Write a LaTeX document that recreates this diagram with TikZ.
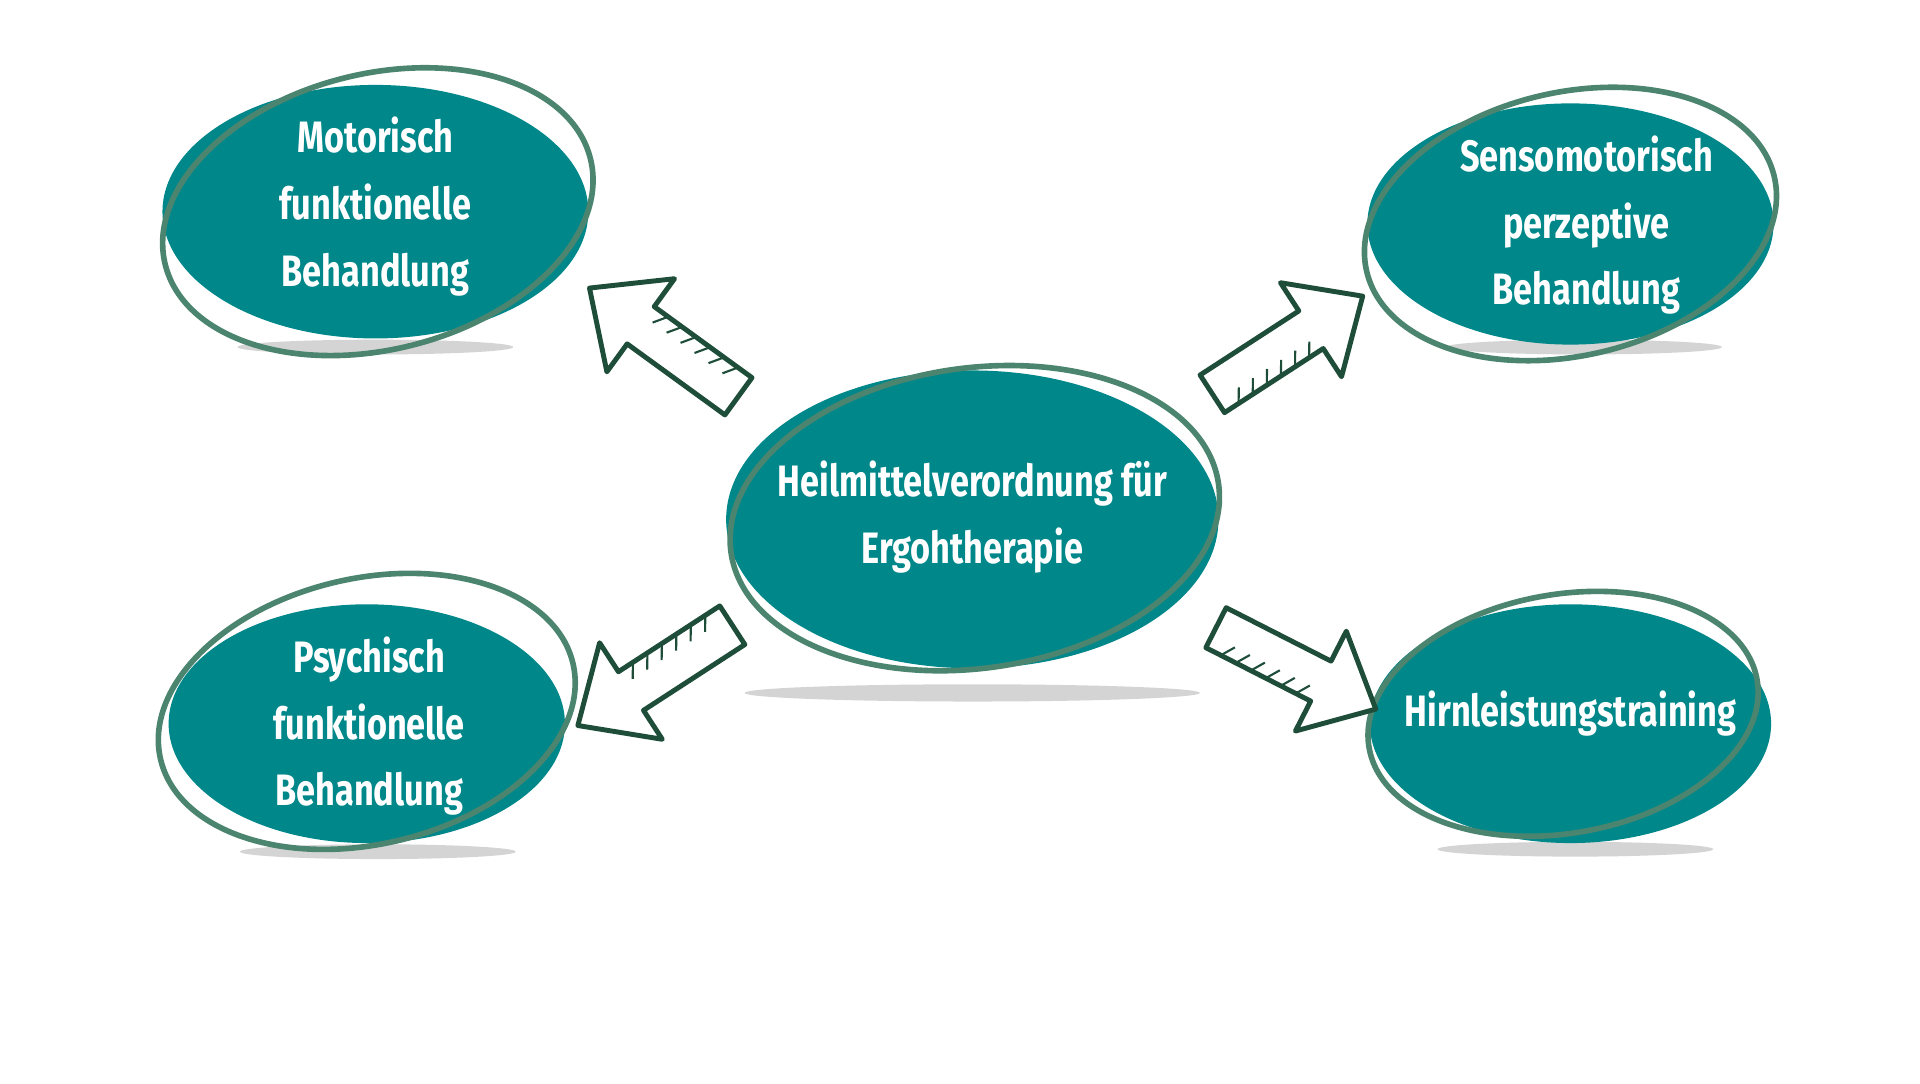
\documentclass[tikz,border=0pt]{standalone}
\usepackage{fontspec}
\setmainfont[FakeStretch=0.78]{Fira Sans}
\definecolor{tealfill}{HTML}{00878A}
\definecolor{ringcolor}{HTML}{4B8570}
\definecolor{arrowcolor}{HTML}{1E4D3A}
\tikzset{
  blob/.style={fill=tealfill},
  label/.style={text=white,align=center,font=\fontsize{12.5}{19}\selectfont\bfseries},
  ring/.style={draw=ringcolor,line width=1.6pt},
  shade/.style={fill=black!17},
  arrowline/.style={draw=arrowcolor,fill=white,line width=1.4pt,line join=round},
  bigarrow/.pic={
    \draw[arrowline] (0cm,-0.2cm) -- (1.05cm,-0.2cm) -- (1.05cm,-0.5cm) -- (1.6cm,0cm)
      -- (1.05cm,0.5cm) -- (1.05cm,0.2cm) -- (0cm,0.2cm) -- cycle;
    \foreach \s in {0.15,0.3,...,0.95}
      \draw[arrowcolor,line width=0.6pt] (\s cm,-0.2cm) -- (\s cm+0.08cm,-0.08cm);
  }
}
\begin{document}
\begin{tikzpicture}[x=0.0123cm,y=-0.0123cm]
\useasboundingbox[fill=white] (0,0) rectangle (1560,880);
% shadows
\fill[shade] (790,563) ellipse [x radius=185,y radius=7];
\fill[shade] (305,282) ellipse [x radius=112,y radius=6];
\fill[shade] (1287,282) ellipse [x radius=112,y radius=6];
\fill[shade] (307,692) ellipse [x radius=112,y radius=6];
\fill[shade] (1280,690) ellipse [x radius=112,y radius=6];
% bubbles
\fill[blob] (790,422) ellipse [x radius=200,y radius=121];
\fill[blob] (305,172) ellipse [x radius=173,y radius=103];
\fill[blob] (1276,182) ellipse [x radius=165,y radius=98];
\fill[blob] (298,588) ellipse [x radius=161,y radius=97];
\fill[blob] (1276,588) ellipse [x radius=163,y radius=97];
\node[label] (main) at (790,420) {Heilmittelverordnung für\\Ergohtherapie};
\node[label] (motor) at (305,168) {Motorisch\\funktionelle\\Behandlung};
\node[label] (senso) at (1289,183) {Sensomotorisch\\perzeptive\\Behandlung};
\node[label] (psych) at (300,590) {Psychisch\\funktionelle\\Behandlung};
\node[label] (hirn) at (1276,580) {Hirnleistungstraining};
% rings
\draw[ring] (792,421) ellipse [x radius=200,y radius=122,rotate=8];
\draw[ring] (307,172) ellipse [x radius=178,y radius=112,rotate=14];
\draw[ring] (1276,182) ellipse [x radius=170,y radius=107,rotate=13];
\draw[ring] (298,578) ellipse [x radius=172,y radius=108,rotate=13];
\draw[ring] (1270,580) ellipse [x radius=160,y radius=97,rotate=10];
% arrows
\pic[rotate=144,scale=1.15] at (600,322) {bigarrow};
\pic[rotate=33,scale=1.12] at (985,320) {bigarrow};
\pic[rotate=213,scale=1.15] at (595,508) {bigarrow};
\pic[rotate=-27,scale=1.12] at (988,510) {bigarrow};
\end{tikzpicture}
\end{document}
